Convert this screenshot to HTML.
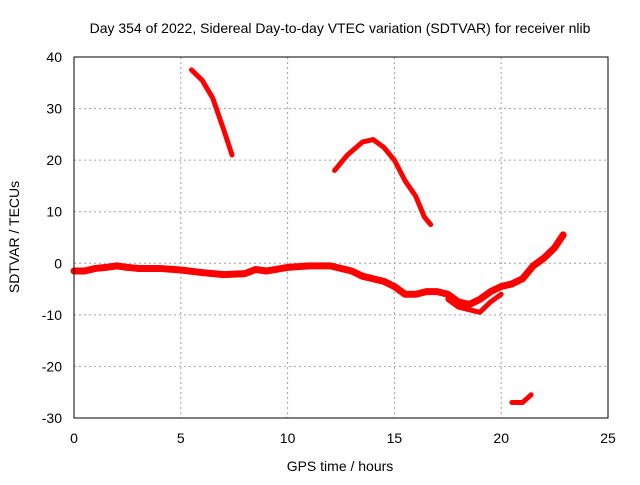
<!DOCTYPE html>
<html><head><meta charset="utf-8"><style>
body{margin:0;background:#fff;}
svg text{font-family:"Liberation Sans",sans-serif;font-size:14px;fill:#000;}
</style></head><body>
<svg id="chart" width="640" height="480">
<text x="340" y="33" text-anchor="middle">Day 354 of 2022, Sidereal Day-to-day VTEC variation (SDTVAR) for receiver nlib</text>
<g id="grid"></g><g id="ticks"></g><g id="series"></g>
<rect x="74" y="57" width="534" height="361" fill="none" stroke="#000" stroke-width="1"/>
<text x="340" y="471" text-anchor="middle">GPS time / hours</text>
<text transform="translate(19,237) rotate(-90)" text-anchor="middle">SDTVAR / TECUs</text>
</svg>
<script>
const xTicks=[0,5,10,15,20,25];
const yTicks=[-30,-20,-10,0,10,20,30,40];
const mainHours=[0,0.5,1,1.5,2,2.5,3,4,5,6,7,8,8.5,9,10,11,12,13,13.5,14,14.5,15,15.5,16,16.5,17,17.5,18,18.5,19,19.5,20,20.5,21,21.5,22,22.5,22.9];
const mainValues=[-1.5,-1.5,-1,-0.8,-0.5,-0.8,-1,-1,-1.3,-1.8,-2.2,-2,-1.2,-1.5,-0.8,-0.5,-0.5,-1.5,-2.5,-3,-3.5,-4.5,-6,-6,-5.5,-5.5,-6,-7.5,-8,-7,-5.5,-4.5,-4,-3,-0.5,1,3,5.5];
const lowHours=[17.5,18,18.5,19,19.5,20];
const lowValues=[-7,-8.5,-9,-9.5,-7.5,-6];
const seg1Hours=[5.5,6,6.5,7,7.4];
const seg1Values=[37.5,35.5,32,26,21];
const seg2Hours=[12.2,12.8,13.5,14,14.5,15,15.5,16,16.4,16.7];
const seg2Values=[18,21,23.5,24,22.5,20,16,13,9,7.5];
const seg3Hours=[20.5,21,21.4];
const seg3Values=[-27,-27,-25.5];
const X=h=>74+h*534/25;
const Y=v=>57+(40-v)*361/70;
const NS="http://www.w3.org/2000/svg";
const grid=document.getElementById('grid'),ticks=document.getElementById('ticks'),series=document.getElementById('series');
function mk(tag,attrs,parent){const e=document.createElementNS(NS,tag);for(const k in attrs)e.setAttribute(k,attrs[k]);parent.appendChild(e);return e;}
xTicks.forEach(t=>{
 if(t>0&&t<25){const l=mk('line',{x1:X(t),x2:X(t),y1:57,y2:418,stroke:'#a0a0a0','stroke-dasharray':'2,3'},grid);
 
 }
 const tx=mk('text',{x:X(t),y:443,'text-anchor':'middle'},ticks);tx.textContent=t;
 
 
});
yTicks.forEach(t=>{
 if(t>-30&&t<40){const l=mk('line',{x1:74,x2:608,y1:Y(t),y2:Y(t),stroke:'#a0a0a0','stroke-dasharray':'2,3'},grid);
 
 }
 const tx=mk('text',{x:62,y:Y(t)+5,'text-anchor':'end'},ticks);tx.textContent=t;
 
 
});
function line(hs,vs,w,name){
 const p=mk('polyline',{points:hs.map((h,i)=>X(h)+','+Y(vs[i])).join(' '),fill:'none',stroke:'#ff0000','stroke-width':w,'stroke-linejoin':'round','stroke-linecap':'round'},series);
 
 
}
line(mainHours,mainValues,7,'series-main');
line(lowHours,lowValues,5,'series-low-branch');
line(seg1Hours,seg1Values,5,'series-segment-1');
line(seg2Hours,seg2Values,5,'series-segment-2');
line(seg3Hours,seg3Values,5,'series-segment-3');
</script>
</body></html>
